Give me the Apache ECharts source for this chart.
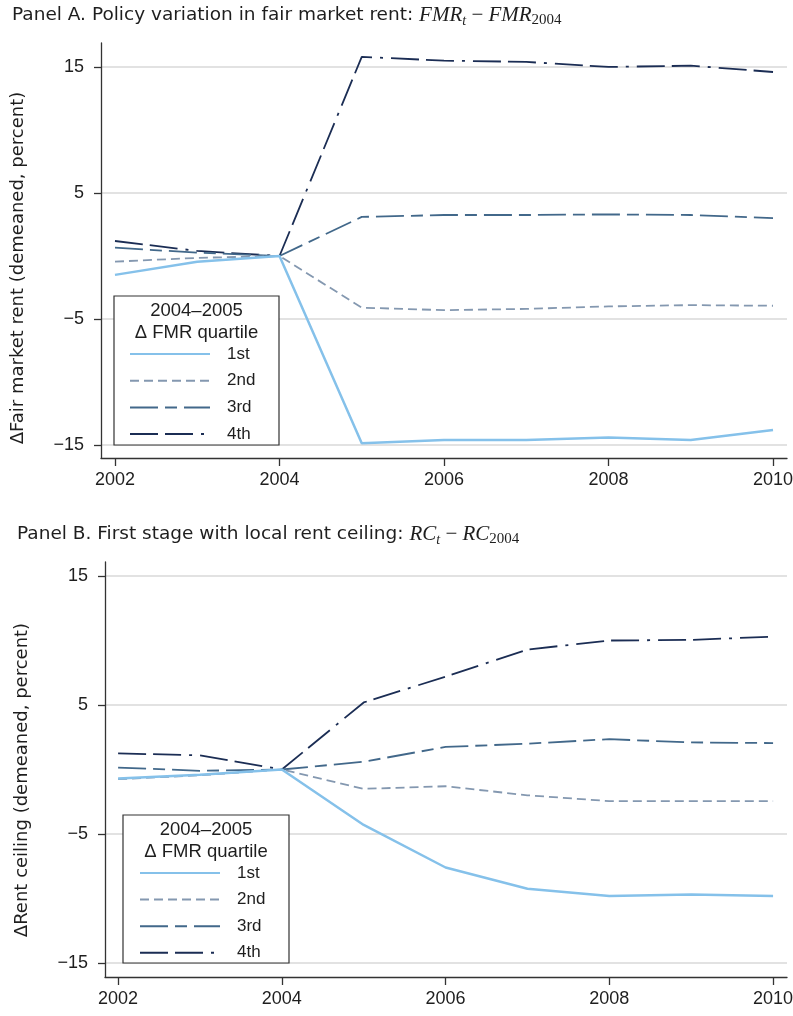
<!DOCTYPE html>
<html>
<head>
<meta charset="utf-8">
<script src="https://cdn.jsdelivr.net/npm/echarts@6/dist/echarts.min.js"></script>
<style>
  html, body { margin: 0; padding: 0; background: #fff; }
  #chart { width: 793px; height: 1016px; }
</style>
</head>
<body>
<div id="chart"></div>
<script>
// Years on the horizontal axis and the labelled ticks
const years = [2002, 2003, 2004, 2005, 2006, 2007, 2008, 2009, 2010];
const yearTicks = [2002, 2004, 2006, 2008, 2010];
const valueTicks = [-15, -5, 5, 15];
const quartiles = ['1st', '2nd', '3rd', '4th'];

// Panel A: FMR_t - FMR_2004 by 2004-2005 change-in-FMR quartile (percent, demeaned)
const fmrQ1 = [-1.5, -0.45, 0, -14.85, -14.6, -14.6, -14.4, -14.6, -13.8];
const fmrQ2 = [-0.45, -0.15, 0, -4.1, -4.3, -4.2, -4.0, -3.9, -3.95];
const fmrQ3 = [0.66, 0.26, 0, 3.1, 3.25, 3.25, 3.3, 3.25, 3.0];
const fmrQ4 = [1.19, 0.4, 0, 15.8, 15.5, 15.4, 15.0, 15.1, 14.6];

// Panel B: RC_t - RC_2004 (local rent ceiling), same quartiles
const rcQ1 = [-0.7, -0.4, 0, -4.3, -7.6, -9.25, -9.8, -9.7, -9.8];
const rcQ2 = [-0.75, -0.45, 0, -1.5, -1.3, -2.0, -2.45, -2.45, -2.45];
const rcQ3 = [0.15, -0.1, 0, 0.6, 1.75, 2.0, 2.35, 2.1, 2.05];
const rcQ4 = [1.25, 1.1, 0, 5.2, 7.2, 9.3, 10.0, 10.05, 10.3];

const SANS = '"Liberation Sans", Arial, Helvetica, sans-serif';
const WIDE_SANS = '"DejaVu Sans", sans-serif';
const SERIF = '"Liberation Serif", "Times New Roman", serif';
const INK = '#1e1e1e';

// Line looks per quartile
const looks = [
  { color: '#85c1ea', width: 2.5, type: 'solid' },
  { color: '#8498b0', width: 1.8, type: [9, 5] },
  { color: '#42688a', width: 1.8, type: [28, 7, 12, 7] },
  { color: '#1b2d54', width: 1.8, type: [28, 7, 28, 8, 3, 8] }
];

const fmt = v => (v < 0 ? '\u2212' + Math.abs(v) : String(v));

function xAxisFor(gridIndex, min, max) {
  return {
    type: 'value', gridIndex, min, max,
    axisLine: { show: true, onZero: false, lineStyle: { color: '#333', width: 1.3 } },
    axisTick: { show: true, length: 8, customValues: yearTicks, lineStyle: { color: '#333', width: 1.3 } },
    axisLabel: { customValues: yearTicks, margin: 13, fontFamily: SANS, fontSize: 18, color: INK,
                 formatter: v => String(v) },
    splitLine: { show: false }
  };
}

function yAxisFor(gridIndex, min, max) {
  return {
    type: 'value', gridIndex, min, max,
    axisLine: { show: true, onZero: false, lineStyle: { color: '#333', width: 1.3 } },
    axisTick: { show: true, length: 7, customValues: valueTicks, lineStyle: { color: '#333', width: 1.3 } },
    axisLabel: { customValues: valueTicks, margin: 17, fontFamily: SANS, fontSize: 18, color: INK,
                 formatter: fmt },
    splitLine: { show: true, lineStyle: { color: '#d9d9d9', width: 1.5 } }
  };
}

function seriesFor(idx, arrays) {
  return arrays.map((vals, k) => ({
    name: quartiles[k],
    type: 'line',
    xAxisIndex: idx, yAxisIndex: idx,
    data: years.map((yr, i) => [yr, vals[i]]),
    symbol: 'none', showSymbol: false,
    lineStyle: { color: looks[k].color, width: looks[k].width, type: looks[k].type, cap: 'butt' },
    itemStyle: { color: looks[k].color },
    z: 3 + (3 - k),
    animation: false
  }));
}

function legendFor(left, top, gap) {
  return {
    left, top, orient: 'vertical', padding: 0,
    itemWidth: 80, itemHeight: 14, itemGap: gap,
    data: quartiles, selectedMode: false, z: 20,
    itemStyle: { color: 'rgba(0,0,0,0)', borderWidth: 0, opacity: 0 },
    textStyle: { fontFamily: SANS, fontSize: 17, lineHeight: 17, color: INK, padding: [0, 0, 0, 12] }
  };
}

const richTitle = {
  a: { fontFamily: WIDE_SANS, fontSize: 18.5, fontWeight: 'normal', color: INK, lineHeight: 26 },
  i: { fontFamily: SERIF, fontStyle: 'italic', fontWeight: 'normal', fontSize: 21, color: INK, lineHeight: 26 },
  m: { fontFamily: SERIF, fontWeight: 'normal', fontSize: 21, color: INK, lineHeight: 26 },
  st: { fontFamily: SERIF, fontStyle: 'italic', fontWeight: 'normal', fontSize: 14, color: INK, lineHeight: 14, verticalAlign: 'bottom' },
  s: { fontFamily: SERIF, fontWeight: 'normal', fontSize: 15, color: INK, lineHeight: 14, verticalAlign: 'bottom' }
};

function legendBox(x, y, w, h) {
  const cx = x + w / 2;
  return [
    { type: 'rect', z: 10, shape: { x, y, width: w, height: h },
      style: { fill: '#fff', stroke: '#333', lineWidth: 1.2 } },
    { type: 'text', z: 11, x: cx, y: y + 15,
      style: { text: '2004\u20132005', font: '18.5px ' + SANS, fill: INK, align: 'center', verticalAlign: 'middle' } },
    { type: 'text', z: 11, x: cx, y: y + 37,
      style: { text: '\u0394 FMR quartile', font: '18.5px ' + SANS, fill: INK, align: 'center', verticalAlign: 'middle' } }
  ];
}

const chart = echarts.init(document.getElementById('chart'), null, { renderer: 'canvas' });

chart.setOption({
  animation: false,
  backgroundColor: '#fff',
  title: [
    { left: 7, top: -3,
      text: '{a|Panel A. Policy variation in fair market rent: }{i|FMR}{st|t}{m| \u2212 }{i|FMR}{s|2004}',
      textStyle: { fontWeight: 'normal', rich: richTitle } },
    { left: 12, top: 516,
      text: '{a|Panel B. First stage with local rent ceiling: }{i|RC}{st|t}{m| \u2212 }{i|RC}{s|2004}',
      textStyle: { fontWeight: 'normal', rich: richTitle } }
  ],
  grid: [
    { left: 101, right: 6, top: 43, height: 415, outerBoundsMode: 'none', containLabel: false },
    { left: 105, right: 6, top: 562, height: 415, outerBoundsMode: 'none', containLabel: false }
  ],
  xAxis: [ xAxisFor(0, 2001.83, 2010.17), xAxisFor(1, 2001.84, 2010.17) ],
  yAxis: [ yAxisFor(0, -16.03, 16.9), yAxisFor(1, -16.09, 16.09) ],
  legend: [ legendFor(129, 345.5, 9.7), legendFor(139, 864.5, 9.6) ],
  graphic: [
    ...legendBox(114, 296, 165, 149),
    ...legendBox(123, 815, 166, 148),
    { type: 'text', x: 18, y: 268, rotation: Math.PI / 2,
      style: { text: '\u0394Fair market rent (demeaned, percent)', font: '18px ' + WIDE_SANS, fill: INK,
               align: 'center', verticalAlign: 'middle' } },
    { type: 'text', x: 22, y: 780, rotation: Math.PI / 2,
      style: { text: '\u0394Rent ceiling (demeaned, percent)', font: '18px ' + WIDE_SANS, fill: INK,
               align: 'center', verticalAlign: 'middle' } }
  ],
  series: [
    ...seriesFor(0, [fmrQ1, fmrQ2, fmrQ3, fmrQ4]),
    ...seriesFor(1, [rcQ1, rcQ2, rcQ3, rcQ4])
  ]
});
</script>
</body>
</html>
